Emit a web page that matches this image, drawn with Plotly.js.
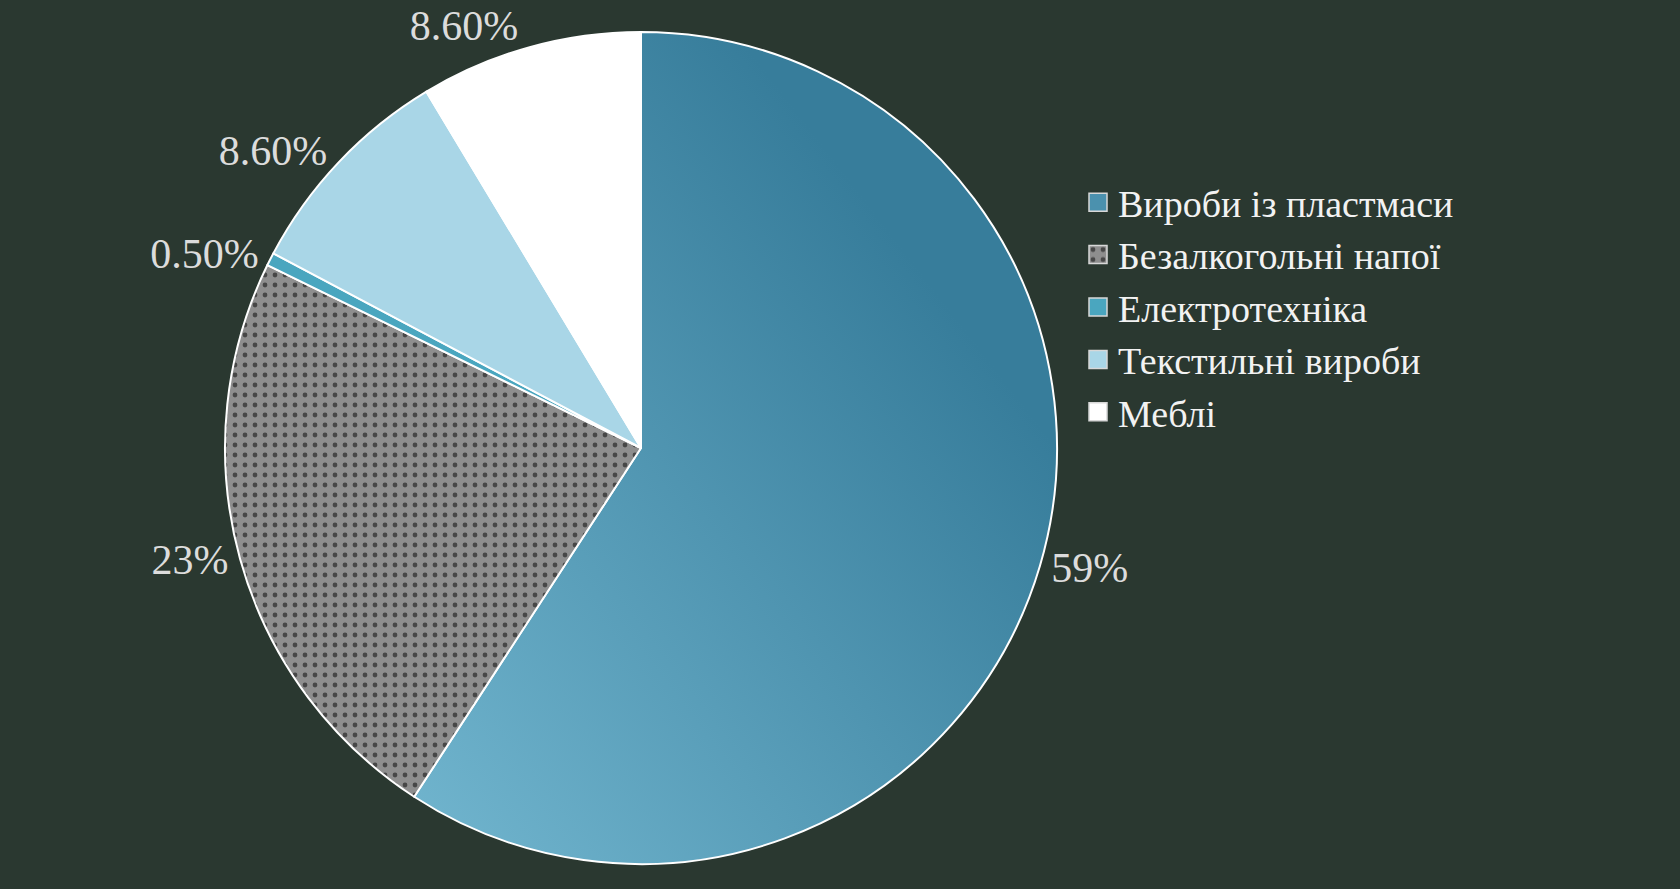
<!DOCTYPE html>
<html>
<head>
<meta charset="utf-8">
<script src="https://cdn.plot.ly/plotly-3.0.1.min.js"></script>
<style>
html,body{margin:0;padding:0;background:#2a3830;}
#chart{width:1680px;height:889px;}
</style>
</head>
<body>
<div id="chart"></div>
<script>
const categories = ["Вироби із пластмаси", "Безалкогольні напої", "Електротехніка", "Текстильні вироби", "Меблі"];
const values = [59, 23, 0.5, 8.6, 8.6];
const valueLabels = ["59%", "23%", "0.50%", "8.60%", "8.60%"];
const sliceColors = ["#4b91ae", "#8e8e8e", "#4aa6bf", "#a9d6e7", "#ffffff"];

const trace = {
  type: "pie",
  labels: categories,
  values: values,
  text: valueLabels,
  textinfo: "text",
  textposition: "outside",
  sort: false,
  direction: "clockwise",
  rotation: 0,
  hole: 0,
  automargin: false,
  outsidetextfont: {family: "Liberation Serif, Times New Roman, serif", size: 42, color: "#dcdcdc"},
  marker: {
    colors: sliceColors,
    line: {color: "#ffffff", width: 2},
    pattern: {
      shape: ["", ".", "", "", ""],
      fgcolor: "#000000",
      bgcolor: sliceColors,
      size: 10,
      solidity: 0.18,
      fillmode: "overlay"
    }
  },
  domain: {x: [225/1680, 1057/1680], y: [25/889, 857/889]}
};

const layout = {
  width: 1680,
  height: 889,
  paper_bgcolor: "#2a3830",
  plot_bgcolor: "#2a3830",
  margin: {l: 0, r: 0, t: 0, b: 0},
  showlegend: true,
  legend: {
    x: 1078/1680,
    xanchor: "left",
    y: 1 - 171/889,
    yanchor: "top",
    bgcolor: "rgba(0,0,0,0)",
    font: {family: "Liberation Serif, Times New Roman, serif", size: 38, color: "#f2f2f2"},
    tracegroupgap: 0
  }
};

Plotly.newPlot("chart", [trace], layout, {displayModeBar: false, staticPlot: true}).then(function(gd){
  const svg = gd.querySelector("svg.main-svg");
  const ns = "http://www.w3.org/2000/svg";
  let defs = svg.querySelector("defs");
  const grad = document.createElementNS(ns, "linearGradient");
  grad.setAttribute("id", "blueGrad");
  grad.setAttribute("x1", "1"); grad.setAttribute("y1", "0");
  grad.setAttribute("x2", "0"); grad.setAttribute("y2", "1");
  const s1 = document.createElementNS(ns, "stop");
  s1.setAttribute("offset", "0.25"); s1.setAttribute("stop-color", "#377d9b");
  const s2 = document.createElementNS(ns, "stop");
  s2.setAttribute("offset", "1"); s2.setAttribute("stop-color", "#72b6cf");
  grad.appendChild(s1); grad.appendChild(s2);
  defs.appendChild(grad);
  const slice = gd.querySelector(".slice path.surface");
  if (slice) slice.style.fill = "url(#blueGrad)";
  gd.querySelectorAll(".legendpoints path").forEach(function(p){
    p.setAttribute("d", "M9,9H-9V-9H9Z");
    p.style.stroke = "#d8d8d8";
    p.style.strokeWidth = "1.5px";
  });
});
</script>
</body>
</html>
